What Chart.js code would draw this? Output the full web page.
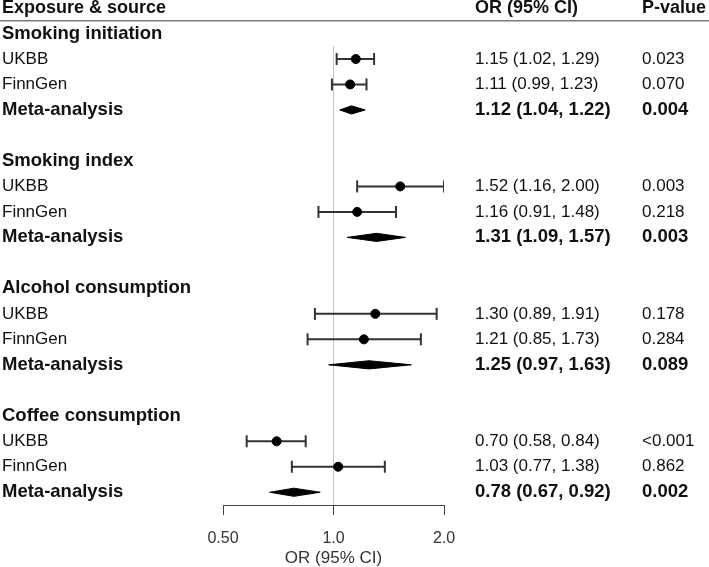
<!DOCTYPE html>
<html>
<head>
<meta charset="utf-8">
<script src="https://cdn.jsdelivr.net/npm/chart.js@4/dist/chart.umd.min.js"></script>
<style>
  body { margin: 0; background: #fff; }
</style>
</head>
<body>
<canvas id="forest" width="709" height="567"></canvas>
<script>
// one entry per row, blanks separate the exposure groups
const rowLabels = [
    'Smoking initiation', 'UKBB', 'FinnGen', 'Meta-analysis', '',
    'Smoking index', 'UKBB', 'FinnGen', 'Meta-analysis', '',
    'Alcohol consumption', 'UKBB', 'FinnGen', 'Meta-analysis', '',
    'Coffee consumption', 'UKBB', 'FinnGen', 'Meta-analysis'
];
const estimates = [null, 1.15, 1.11, 1.12, null, null, 1.52, 1.16, 1.31, null, null, 1.30, 1.21, 1.25, null, null, 0.70, 1.03, 0.78];
const lowers = [null, 1.02, 0.99, 1.04, null, null, 1.16, 0.91, 1.09, null, null, 0.89, 0.85, 0.97, null, null, 0.58, 0.77, 0.67];
const uppers = [null, 1.29, 1.23, 1.22, null, null, 2.00, 1.48, 1.57, null, null, 1.91, 1.73, 1.63, null, null, 0.84, 1.38, 0.92];
const pValues = ['', '0.023', '0.070', '0.004', '', '', '0.003', '0.218', '0.003', '', '', '0.178', '0.284', '0.089', '', '', '<0.001', '0.862', '0.002'];

const headers = ['Exposure & source', 'OR (95% CI)', 'P-value'];
const tickValues = [0.5, 1.0, 2.0];
const tickLabels = ['0.50', '1.0', '2.0'];
const axisTitle = 'OR (95% CI)';

const FONT = "'Liberation Sans', Arial, sans-serif";
const INK = '#111';
const BAR = '#333';

Chart.defaults.font.family = FONT;

var isMeta = (i) => rowLabels[i] === 'Meta-analysis';
var isHeader = (i) => estimates[i] === null && rowLabels[i] !== '';

// CI whiskers for single studies, broken with nulls
var ciData = [];
var pointData = [];
var diamonds = [];
rowLabels.forEach((l, i) => {
    if (estimates[i] === null) return;
    if (isMeta(i)) {
        diamonds.push([
            { x: lowers[i], y: i },
            { x: estimates[i], y: i - 0.16 },
            { x: uppers[i], y: i },
            { x: estimates[i], y: i + 0.16 },
            { x: lowers[i], y: i }
        ]);
    } else {
        ciData.push({ x: lowers[i], y: i }, { x: uppers[i], y: i }, { x: null, y: null });
        pointData.push({ x: estimates[i], y: i });
    }
});

var datasets = [{
    type: 'scatter',
    data: pointData,
    pointStyle: 'circle',
    pointRadius: 4.5,
    backgroundColor: '#000',
    borderColor: '#000',
    order: 0
}, {
    type: 'line',
    data: ciData,
    spanGaps: false,
    borderColor: BAR,
    borderWidth: 2,
    pointStyle: 'line',
    pointRotation: 90,
    pointRadius: 6,
    pointBorderWidth: 2,
    pointBorderColor: BAR,
    order: 1
}, {
    type: 'line',
    data: [{ x: 1, y: 0.5 }, { x: 1, y: 18.5 }],
    borderColor: '#c4c4c4',
    borderWidth: 1,
    pointRadius: 0,
    order: 3
}];

diamonds.forEach((d) => {
    datasets.push({
        type: 'line',
        data: d,
        borderColor: '#000',
        backgroundColor: '#000',
        borderWidth: 1,
        fill: 'shape',
        pointRadius: 0,
        tension: 0,
        order: 2
    });
});

// text columns and the header rule sit outside the plot area
const tablePlugin = {
    id: 'table',
    afterDraw(chart) {
        var ctx = chart.ctx;
        var y = chart.scales.y;
        ctx.save();
        ctx.textBaseline = 'middle';
        ctx.fillStyle = INK;

        var hy = y.getPixelForValue(-1);
        ctx.font = 'bold 18px ' + FONT;
        ctx.fillText(headers[0], 2, hy);
        ctx.fillText(headers[1], 475, hy);
        ctx.fillText(headers[2], 642, hy);

        ctx.strokeStyle = '#7a7a7a';
        ctx.lineWidth = 1.5;
        ctx.beginPath();
        ctx.moveTo(0, y.getPixelForValue(-0.5));
        ctx.lineTo(chart.width, y.getPixelForValue(-0.5));
        ctx.stroke();

        rowLabels.forEach((l, i) => {
            if (!l) return;
            var py = y.getPixelForValue(i);
            var bold = isHeader(i) || isMeta(i);
            ctx.font = (bold ? 'bold 18.5px ' : '17px ') + FONT;
            ctx.fillText(l, 2, py);
            if (estimates[i] !== null) {
                var txt = estimates[i].toFixed(2) + ' (' + lowers[i].toFixed(2) + ', ' + uppers[i].toFixed(2) + ')';
                ctx.fillText(txt, 475, py);
                ctx.fillText(pValues[i], 642, py);
            }
        });
        ctx.restore();
    }
};

var ctx = document.getElementById('forest');
var forest = new Chart(ctx, {
    type: 'scatter',
    data: { datasets: datasets },
    plugins: [tablePlugin],
    options: {
        responsive: false,
        animation: false,
        layout: { padding: { left: 223, right: 265, top: 7.5, bottom: 0 } },
        plugins: {
            legend: { display: false },
            tooltip: { enabled: false }
        },
        scales: {
            x: {
                type: 'logarithmic',
                min: 0.5,
                max: 2.0,
                afterBuildTicks: (scale) => {
                    scale.ticks = tickValues.map((v) => ({ value: v }));
                },
                afterFit: (scale) => { scale.height = 62; },
                ticks: {
                    autoSkip: false,
                    maxRotation: 0,
                    padding: 14,
                    color: '#333',
                    font: { size: 16 },
                    callback: (value) => tickLabels[tickValues.indexOf(value)]
                },
                grid: {
                    drawOnChartArea: false,
                    drawTicks: true,
                    tickLength: 10,
                    tickWidth: 1,
                    tickColor: '#444'
                },
                border: { display: true, color: '#444', width: 1 },
                title: {
                    display: true,
                    text: axisTitle,
                    color: '#333',
                    font: { size: 17 },
                    padding: { top: 0, bottom: -2 }
                }
            },
            y: {
                type: 'linear',
                display: false,
                reverse: true,
                min: -1,
                max: 18.5
            }
        }
    }
});
</script>
</body>
</html>
